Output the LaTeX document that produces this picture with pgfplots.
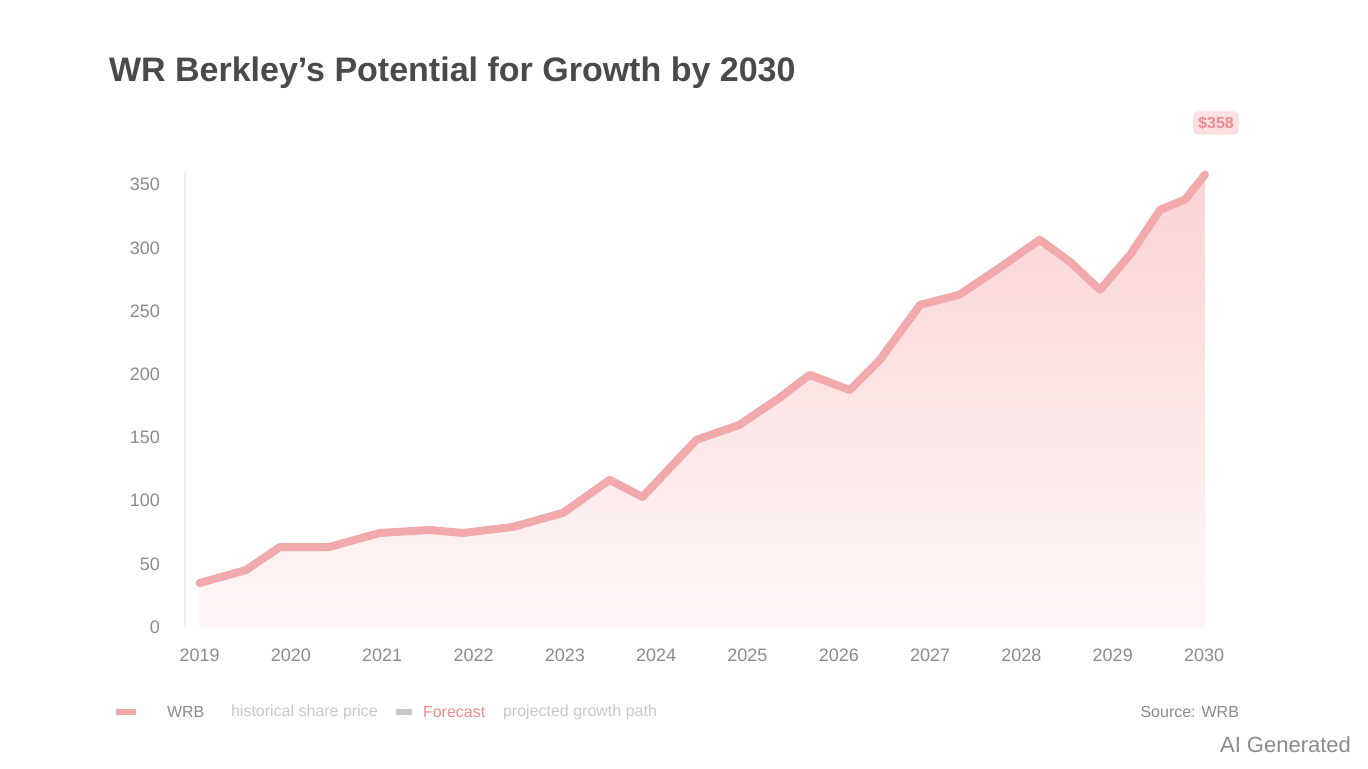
\documentclass[border=0pt]{standalone}
\usepackage{pgfplots}
\pgfplotsset{compat=1.18}
\usepackage{fontspec}
\setmainfont{Liberation Sans}
\definecolor{titlegray}{HTML}{4A4A4A}
\definecolor{tickgray}{HTML}{8A8A8A}
\definecolor{lightgray}{HTML}{C8C8C8}
\definecolor{lineRed}{HTML}{F2A9AC}
\definecolor{fillTop}{HTML}{FBD3D5}
\definecolor{fillBot}{HTML}{FEF7F7}
\definecolor{tagRed}{HTML}{EE8A8D}
\definecolor{tagFill}{HTML}{FDE1E2}

\pgfplotstableread{
year   price
2019.00 34.8
2019.51 45.1
2019.88 63.3
2020.42 63.3
2020.97 74.4
2021.52 76.8
2021.88 74.4
2022.43 79.2
2022.98 90.3
2023.49 116.4
2023.85 102.9
2024.44 148.1
2024.91 159.9
2025.35 181.3
2025.68 199.5
2026.12 187.6
2026.45 211.4
2026.89 254.9
2027.32 262.9
2027.76 284.2
2028.20 306.4
2028.53 289.0
2028.86 266.8
2029.19 294.5
2029.52 330.2
2029.79 338.1
2030.01 357.9
}\pricedata

\begin{document}
\begin{tikzpicture}
\path[use as bounding box] (0,0) rectangle (684pt,384pt);

% title
\node[anchor=west, font=\fontsize{17}{19}\selectfont\bfseries, text=titlegray]
  at (51pt,347.5pt) {WR Berkley's Potential for Growth by 2030};

\begin{axis}[
    at={(92.5pt,70.5pt)}, anchor=south west,
    scale only axis,
    width=515pt, height=227.5pt,
    xmin=2018.84, xmax=2030.12,
    ymin=0, ymax=360,
    axis x line*=bottom,
    x axis line style={draw=none},
    axis y line*=left,
    y axis line style={draw=black!6, line width=0.8pt},
    xtick={2019,2020,...,2030},
    ytick={0,50,...,350},
    major tick length=0pt,
    /pgf/number format/assume math mode=true,
    /pgf/number format/1000 sep={},
    tick label style={font=\fontsize{9}{10}\selectfont, text=tickgray},
    yticklabel style={xshift=-9pt},
    xticklabel style={yshift=-7.5pt},
    clip=false,
]
\addplot[draw=none, top color=fillTop, bottom color=fillBot]
    table[x=year, y=price] {\pricedata} \closedcycle;
\addplot[lineRed, line width=4pt, line join=round, line cap=round]
    table[x=year, y=price] {\pricedata};
\end{axis}

% end value tag
\node[fill=tagFill, text=tagRed, rounded corners=2pt, inner sep=2.5pt,
      font=\fontsize{8}{9}\selectfont\bfseries] at (608pt,322.5pt) {\$358};

% legend
\draw[lineRed, line width=3pt] (58pt,28pt) -- (68pt,28pt);
\node[anchor=west, font=\fontsize{8}{9}\selectfont, text=tickgray] at (80pt,28pt) {WRB};
\node[anchor=west, font=\fontsize{8}{9}\selectfont, text=lightgray] at (112pt,28pt) {historical share price};
\draw[lightgray, line width=3pt] (198pt,28pt) -- (206pt,28pt);
\node[anchor=west, font=\fontsize{8}{9}\selectfont, text=tagRed] at (208pt,28pt) {Forecast};
\node[anchor=west, font=\fontsize{8}{9}\selectfont, text=lightgray] at (248pt,28pt) {projected growth path};

% source
\node[anchor=east, font=\fontsize{8}{9}\selectfont, text=tickgray] at (623pt,28pt) {Source: WRB};

% watermark
\node[anchor=east, font=\fontsize{11}{12}\selectfont, text=tickgray] at (679pt,11.5pt) {AI Generated};
\end{tikzpicture}
\end{document}
